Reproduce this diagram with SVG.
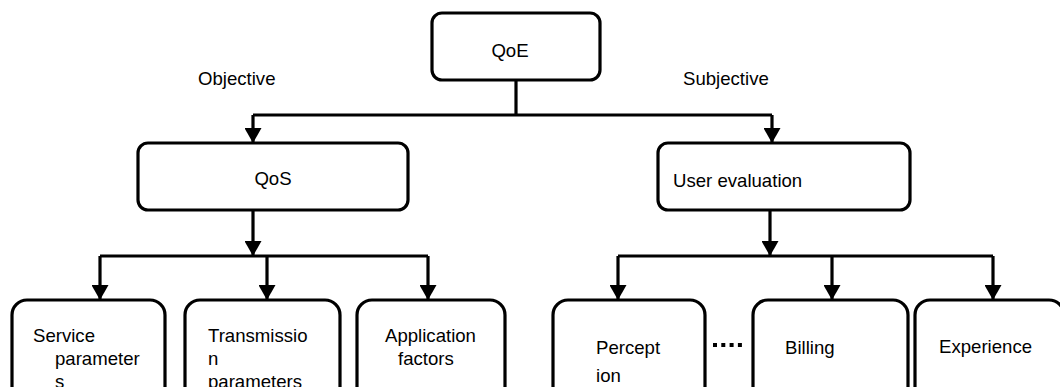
<svg xmlns="http://www.w3.org/2000/svg" width="1060" height="387" viewBox="0 0 1060 387">
  <style>
    .box { fill: #ffffff; stroke: #000000; stroke-width: 3.2; }
    .wire { fill: none; stroke: #000000; stroke-width: 3.2; }
    .lbl { font-family: "Liberation Sans", Arial, sans-serif; font-size: 18.6px; fill: #000000; }
    .mid { text-anchor: middle; }
  </style>
  <defs>
    <marker id="arrow" viewBox="0 0 15 17" markerWidth="15" markerHeight="17" refX="15" refY="8.5" orient="auto" markerUnits="userSpaceOnUse">
      <path d="M0,0 L15,8.5 L0,17 z" fill="#000000"/>
    </marker>
  </defs>
  <rect width="1060" height="387" fill="#ffffff"/>

  <!-- connectors -->
  <g id="connectors">
    <path class="wire" d="M516,80 V115"/>
    <path class="wire" d="M253,115 H772"/>
    <path class="wire" d="M253,115 V143" marker-end="url(#arrow)"/>
    <path class="wire" d="M772,115 V143" marker-end="url(#arrow)"/>
    <path class="wire" d="M253,210 V256" marker-end="url(#arrow)"/>
    <path class="wire" d="M100,256 H428"/>
    <path class="wire" d="M100,256 V300" marker-end="url(#arrow)"/>
    <path class="wire" d="M267,256 V300" marker-end="url(#arrow)"/>
    <path class="wire" d="M428,256 V300" marker-end="url(#arrow)"/>
    <path class="wire" d="M770,210 V256" marker-end="url(#arrow)"/>
    <path class="wire" d="M618,256 H993"/>
    <path class="wire" d="M618,256 V300" marker-end="url(#arrow)"/>
    <path class="wire" d="M832,256 V300" marker-end="url(#arrow)"/>
    <path class="wire" d="M993,256 V300" marker-end="url(#arrow)"/>
    <!-- ellipsis between Perception and Billing -->
    <line x1="713" y1="345" x2="745" y2="345" stroke="#000000" stroke-width="4" stroke-dasharray="4 4.3"/>
  </g>

  <!-- branch labels -->
  <text class="lbl" x="198" y="85">Objective</text>
  <text class="lbl" x="683" y="85">Subjective</text>

  <g id="qoe">
    <rect class="box" x="432" y="13" width="168" height="67" rx="10"/>
    <text class="lbl mid" x="510" y="57">QoE</text>
  </g>
  <g id="qos">
    <rect class="box" x="138" y="143" width="270" height="67" rx="10"/>
    <text class="lbl mid" x="273" y="185">QoS</text>
  </g>
  <g id="user-evaluation">
    <rect class="box" x="658" y="143" width="252" height="67" rx="10"/>
    <text class="lbl" x="673" y="187">User evaluation</text>
  </g>

  <g id="service-parameters">
    <rect class="box" x="12" y="300" width="153" height="110" rx="15"/>
    <text class="lbl" x="33" y="342">Service</text>
    <text class="lbl" x="55" y="365">parameter</text>
    <text class="lbl" x="55" y="388">s</text>
  </g>
  <g id="transmission-parameters">
    <rect class="box" x="185" y="300" width="155" height="110" rx="15"/>
    <text class="lbl" x="208" y="342">Transmissio</text>
    <text class="lbl" x="208" y="365">n</text>
    <text class="lbl" x="208" y="388">parameters</text>
  </g>
  <g id="application-factors">
    <rect class="box" x="357" y="300" width="148" height="110" rx="15"/>
    <text class="lbl" x="385" y="342">Application</text>
    <text class="lbl" x="398" y="365">factors</text>
  </g>
  <g id="perception">
    <rect class="box" x="553" y="300" width="152" height="110" rx="15"/>
    <text class="lbl" x="596" y="354">Percept</text>
    <text class="lbl" x="596" y="382">ion</text>
  </g>
  <g id="billing">
    <rect class="box" x="753" y="300" width="155" height="110" rx="15"/>
    <text class="lbl" x="785" y="354">Billing</text>
  </g>
  <g id="experience">
    <rect class="box" x="915" y="300" width="149" height="110" rx="15"/>
    <text class="lbl" x="939" y="353">Experience</text>
  </g>
</svg>
